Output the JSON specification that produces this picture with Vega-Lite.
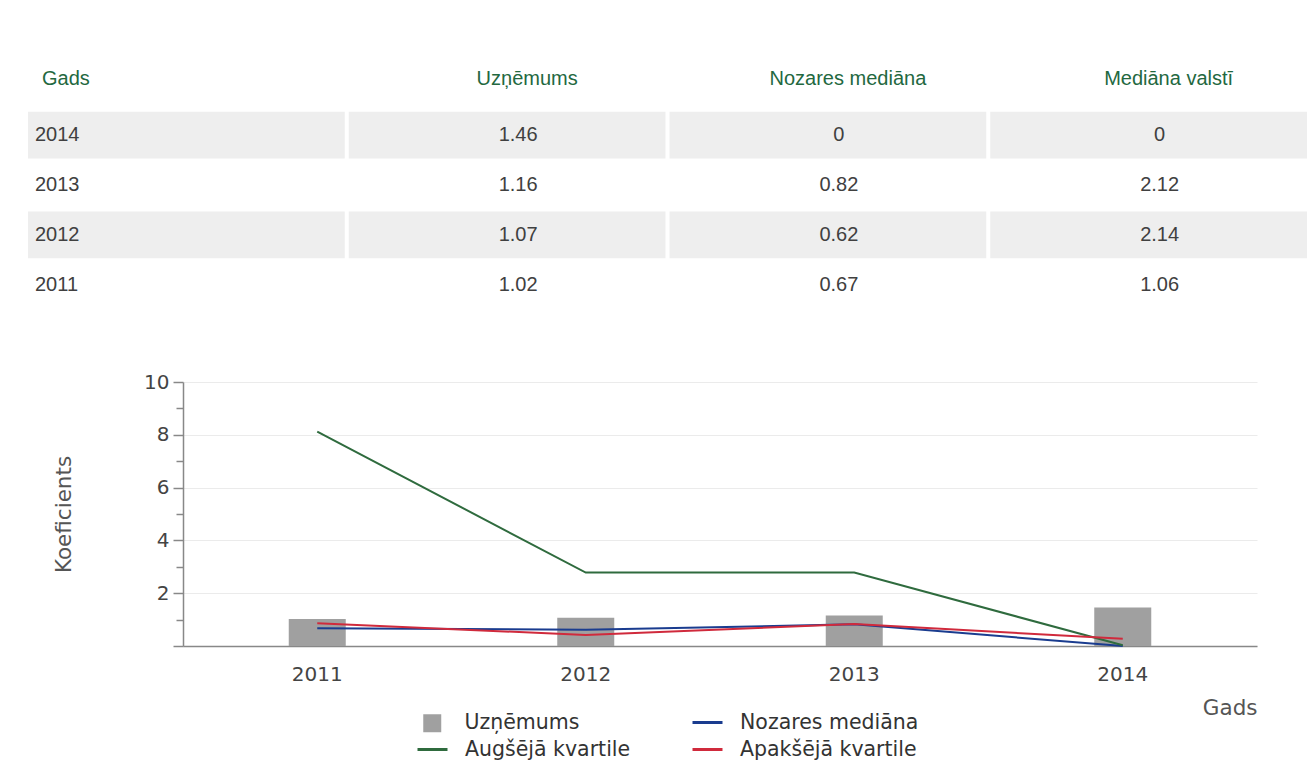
{
  "$schema": "https://vega.github.io/schema/vega-lite/v6.json",
  "padding": {"left": 28, "top": 62, "right": 5, "bottom": 5},
  "background": "white",
  "config": {"view": {"stroke": null}},
  "datasets": {
    "table": [
      {"row": "header", "col": "Gads", "text": "Gads"},
      {"row": "header", "col": "Uzņēmums", "text": "Uzņēmums"},
      {"row": "header", "col": "Nozares mediāna", "text": "Nozares mediāna"},
      {"row": "header", "col": "Mediāna valstī", "text": "Mediāna valstī"},
      {"row": "2014", "col": "Gads", "text": "2014"},
      {"row": "2014", "col": "Uzņēmums", "text": "1.46"},
      {"row": "2014", "col": "Nozares mediāna", "text": "0"},
      {"row": "2014", "col": "Mediāna valstī", "text": "0"},
      {"row": "2013", "col": "Gads", "text": "2013"},
      {"row": "2013", "col": "Uzņēmums", "text": "1.16"},
      {"row": "2013", "col": "Nozares mediāna", "text": "0.82"},
      {"row": "2013", "col": "Mediāna valstī", "text": "2.12"},
      {"row": "2012", "col": "Gads", "text": "2012"},
      {"row": "2012", "col": "Uzņēmums", "text": "1.07"},
      {"row": "2012", "col": "Nozares mediāna", "text": "0.62"},
      {"row": "2012", "col": "Mediāna valstī", "text": "2.14"},
      {"row": "2011", "col": "Gads", "text": "2011"},
      {"row": "2011", "col": "Uzņēmums", "text": "1.02"},
      {"row": "2011", "col": "Nozares mediāna", "text": "0.67"},
      {"row": "2011", "col": "Mediāna valstī", "text": "1.06"}
    ],
    "series": [
      {"Gads": "2011", "series": "Uzņēmums", "value": 1.02},
      {"Gads": "2012", "series": "Uzņēmums", "value": 1.07},
      {"Gads": "2013", "series": "Uzņēmums", "value": 1.16},
      {"Gads": "2014", "series": "Uzņēmums", "value": 1.46},
      {"Gads": "2011", "series": "Nozares mediāna", "value": 0.67},
      {"Gads": "2012", "series": "Nozares mediāna", "value": 0.62},
      {"Gads": "2013", "series": "Nozares mediāna", "value": 0.82},
      {"Gads": "2014", "series": "Nozares mediāna", "value": 0},
      {"Gads": "2011", "series": "Augšējā kvartile", "value": 8.12},
      {"Gads": "2012", "series": "Augšējā kvartile", "value": 2.78},
      {"Gads": "2013", "series": "Augšējā kvartile", "value": 2.78},
      {"Gads": "2014", "series": "Augšējā kvartile", "value": 0.03},
      {"Gads": "2011", "series": "Apakšējā kvartile", "value": 0.86},
      {"Gads": "2012", "series": "Apakšējā kvartile", "value": 0.42},
      {"Gads": "2013", "series": "Apakšējā kvartile", "value": 0.83},
      {"Gads": "2014", "series": "Apakšējā kvartile", "value": 0.27}
    ]
  },
  "spacing": 64,
  "vconcat": [
    {
      "width": 1279,
      "height": 246,
      "data": {"name": "table"},
      "encoding": {
        "x": {"field": "col", "type": "nominal", "scale": {"domain": ["Gads", "Uzņēmums", "Nozares mediāna", "Mediāna valstī"], "paddingInner": 0.0125, "paddingOuter": 0}, "axis": null},
        "y": {"field": "row", "type": "nominal", "scale": {"domain": ["header", "2014", "2013", "2012", "2011"], "paddingInner": 0.06, "paddingOuter": 0}, "axis": null}
      },
      "layer": [
        {
          "transform": [{"filter": "datum.row === '2014' || datum.row === '2012'"}],
          "mark": {"type": "rect", "color": "#eeeeee"}
        },
        {
          "transform": [{"filter": "datum.row !== 'header' && datum.col === 'Gads'"}],
          "mark": {"type": "text", "align": "left", "dx": 7, "font": "Liberation Sans", "fontSize": 20, "color": "#404040"},
          "encoding": {"x": {"field": "col", "type": "nominal", "bandPosition": 0}, "text": {"field": "text"}}
        },
        {
          "transform": [{"filter": "datum.row !== 'header' && datum.col !== 'Gads'"}],
          "mark": {"type": "text", "align": "center", "dx": 11, "font": "Liberation Sans", "fontSize": 20, "color": "#404040"},
          "encoding": {"text": {"field": "text"}}
        },
        {
          "transform": [{"filter": "datum.row === 'header' && datum.col === 'Gads'"}],
          "mark": {"type": "text", "align": "left", "dx": 14, "dy": -6, "font": "Liberation Sans", "fontSize": 20, "color": "#23683f"},
          "encoding": {"x": {"field": "col", "type": "nominal", "bandPosition": 0}, "text": {"field": "text"}}
        },
        {
          "transform": [{"filter": "datum.row === 'header' && datum.col !== 'Gads'"}],
          "mark": {"type": "text", "align": "center", "dx": 20, "dy": -6, "font": "Liberation Sans", "fontSize": 20, "color": "#23683f"},
          "encoding": {"text": {"field": "text"}}
        }
      ]
    },
    {
      "spacing": 24,
      "hconcat": [
        {
          "width": 1,
          "height": 1,
          "data": {"values": []},
          "mark": "point"
        },
        {
          "width": 1074,
          "height": 264,
          "data": {"name": "series"},
          "encoding": {
            "x": {
              "field": "Gads", "type": "nominal",
              "scale": {"paddingInner": 0, "paddingOuter": 0},
              "axis": {
                "title": "Gads", "titleAnchor": "end", "titleAlign": "right", "titleX": 1074, "titleY": 51, "titleBaseline": "top",
                "titleFont": "DejaVu Sans", "titleFontSize": 21.5, "titleFontWeight": "normal", "titleColor": "#555555",
                "labelAngle": 0, "labelFont": "DejaVu Sans", "labelFontSize": 20, "labelColor": "#444444", "labelPadding": 18,
                "ticks": false, "domainColor": "#888888", "domainWidth": 1.5, "grid": false
              }
            },
            "y": {
              "field": "value", "type": "quantitative",
              "scale": {"domain": [0, 10], "nice": false},
              "axis": {
                "title": "Koeficients", "titleX": -108, "titleFont": "DejaVu Sans", "titleFontSize": 21.5, "titleFontWeight": "normal", "titleColor": "#555555",
                "values": [0, 1, 2, 3, 4, 5, 6, 7, 8, 9, 10],
                "labelExpr": "datum.value !== 0 && datum.value % 2 === 0 ? datum.label : ''",
                "labelOverlap": false, "labelFont": "DejaVu Sans", "labelFontSize": 20, "labelColor": "#444444", "labelPadding": 4,
                "tickColor": "#888888", "tickWidth": 1.5,
                "tickSize": {"condition": {"test": "datum.value % 2 === 1", "value": 7}, "value": 10},
                "domainColor": "#888888", "domainWidth": 1.5,
                "gridColor": {"condition": {"test": "datum.value % 2 === 1", "value": "transparent"}, "value": "#ebebeb"}
              }
            }
          },
          "layer": [
            {
              "transform": [{"filter": "datum.series === 'Uzņēmums'"}],
              "mark": {"type": "bar", "size": 57},
              "encoding": {
                "fill": {
                  "field": "series", "type": "nominal",
                  "scale": {"domain": ["Uzņēmums"], "range": ["#a0a0a0"]},
                  "legend": {
                    "orient": "none", "legendX": 239, "legendY": 331, "title": null, "padding": 0,
                    "labelFont": "DejaVu Sans", "labelFontSize": 20.5, "labelColor": "#333333", "labelOffset": 22, "labelLimit": 400,
                    "symbolType": "square", "symbolSize": 324, "symbolStrokeWidth": 0
                  }
                }
              }
            },
            {
              "transform": [{"filter": "datum.series !== 'Uzņēmums'"}],
              "mark": {"type": "line", "strokeWidth": 2},
              "encoding": {
                "stroke": {
                  "field": "series", "type": "nominal",
                  "scale": {"domain": ["Uzņēmums", "Nozares mediāna", "Augšējā kvartile", "Apakšējā kvartile"], "range": ["transparent", "#1a3c8f", "#2f6b3e", "#d02a3c"]},
                  "legend": {
                    "orient": "none", "legendX": 233, "legendY": 324, "columns": 2, "direction": "horizontal", "title": null, "padding": 0,
                    "labelExpr": "datum.label === 'Uzņēmums' ? '' : datum.label", "labelLimit": 400,
                    "labelFont": "DejaVu Sans", "labelFontSize": 20.5, "labelColor": "#333333", "labelOffset": 16,
                    "symbolType": "stroke", "symbolSize": 900, "symbolStrokeWidth": 3, "columnPadding": 55, "rowPadding": 0
                  }
                }
              }
            }
          ],
          "resolve": {"legend": {"fill": "independent", "stroke": "independent"}}
        }
      ]
    }
  ]
}
